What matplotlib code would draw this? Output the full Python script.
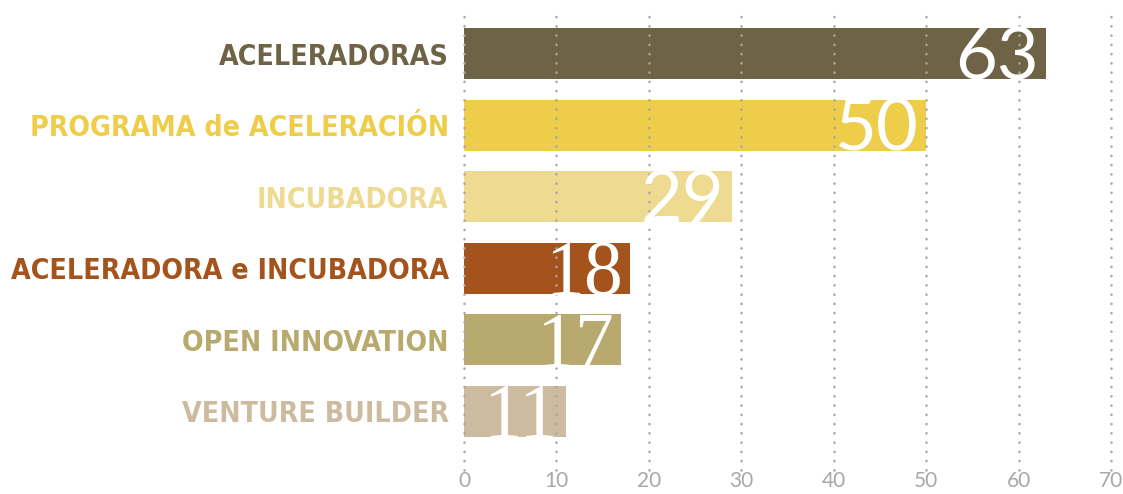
import matplotlib
matplotlib.use("Agg")
import matplotlib.pyplot as plt
from matplotlib import font_manager

# data
categories = ["ACELERADORAS", "PROGRAMA de ACELERACIÓN", "INCUBADORA",
              "ACELERADORA e INCUBADORA", "OPEN INNOVATION", "VENTURE BUILDER"]
values = [63, 50, 29, 18, 17, 11]
ticks = [0, 10, 20, 30, 40, 50, 60, 70]

colors = ["#6e6344", "#eecd4a", "#eeda90", "#a5531c", "#b8aa6e", "#cdbba0"]
# the small numbers are set in a serif face in the original
value_fonts = ["Lato", "Lato", "Lato", "Liberation Serif", "Liberation Serif", "Liberation Serif"]
value_sizes = [52, 52, 52, 56, 56, 56]

# look for a narrow / condensed bold face
cands = [f for f in font_manager.fontManager.ttflist
         if ("Condensed" in f.fname or "Narrow" in f.fname or f.stretch in ("condensed", "semi-condensed", 500))
         and f.weight in ("bold", 700, 600, "semibold", 800, 900)]
if cands:
    label_fp = font_manager.FontProperties(fname=cands[0].fname)
else:
    label_fp = font_manager.FontProperties(family="DejaVu Sans", weight="bold", stretch="condensed")

fig = plt.figure(figsize=(11.23, 4.94), dpi=100)
ax = fig.add_axes([464 / 1123, 24 / 494, 647 / 1123, 455 / 494])

y = list(range(len(categories)))
ax.barh(y, values, height=0.71, color=colors, zorder=1)

ax.set_xlim(0, 70)
ax.set_ylim(len(categories) - 1 + 0.82, -0.54)
ax.set_xticks(ticks)
ax.set_xticklabels([str(t) for t in ticks], fontsize=15, color="#a8a8a8", family="Lato")
ax.tick_params(axis="x", length=0, pad=1)
ax.tick_params(axis="y", length=0, pad=11)
ax.set_yticks(y)
ax.set_yticklabels(categories)

# fit the label size so the longest one spans the same width as the reference
fig.canvas.draw()
r = fig.canvas.get_renderer()
size = 30
label_fp.set_size(size)
probe = fig.text(0, 0, "ACELERADORA e INCUBADORA", fontproperties=label_fp)
w = probe.get_window_extent(r).width
probe.remove()
size = min(size * 437 / w, 40)
label_fp.set_size(size)

for lab, c in zip(ax.get_yticklabels(), colors):
    lab.set_fontproperties(label_fp)
    lab.set_color(c)

for t in ticks:
    ax.axvline(t, color="#a6a6a6", lw=1.8, linestyle=(0, (0.1, 3.6)),
               dash_capstyle="round", zorder=3, clip_on=False)

for s in ax.spines.values():
    s.set_visible(False)

# value labels
for i, v in enumerate(values):
    ax.text(v - 0.8, i + 0.36, str(v), ha="right", va="baseline", color="white",
            fontsize=value_sizes[i], family=value_fonts[i], zorder=4)

fig.savefig("out.png", dpi=100)
